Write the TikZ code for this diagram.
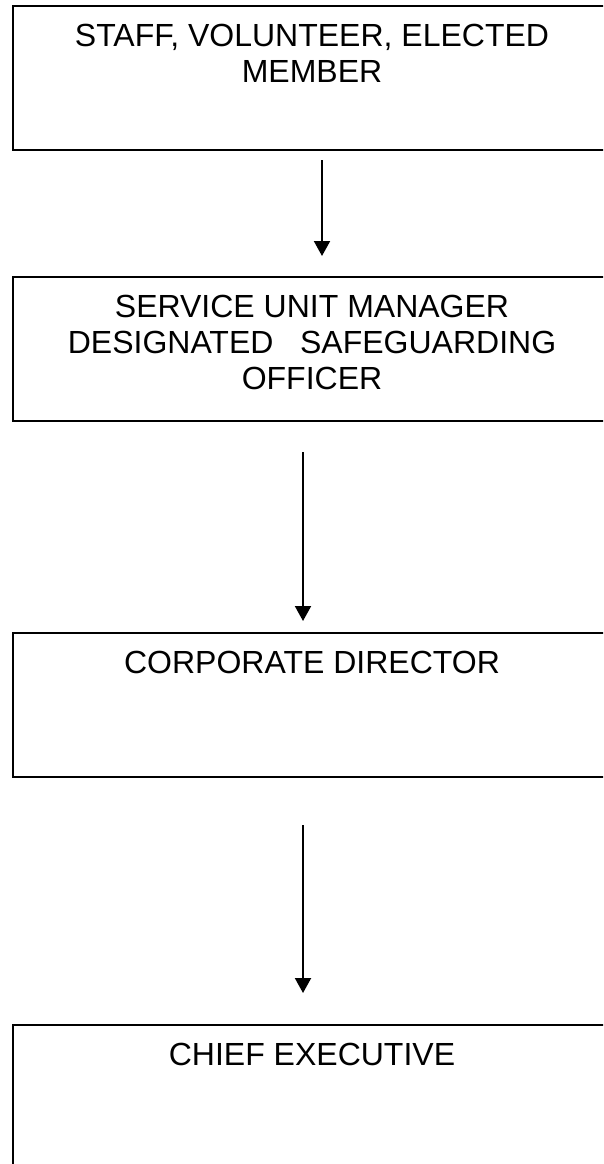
\documentclass[tikz,border=0pt]{standalone}
\usepackage{fontspec}
\setmainfont{Liberation Sans}
\usetikzlibrary{arrows.meta}
\begin{document}
\begin{tikzpicture}[x=1pt,y=-1pt,
  box/.style={draw=black,line width=2pt,rectangle,minimum width=600pt,minimum height=144pt,anchor=north west,inner sep=0pt},
  lbl/.style={anchor=base,align=center,inner sep=0pt,font=\fontsize{32}{36}\selectfont},
  conn/.style={line width=2pt,-{Triangle[width=16pt,length=15pt]}}]
\useasboundingbox (0,0) rectangle (603,1164);
\clip (0,0) rectangle (603,1164);
\node[box] (b1) at (12,5) {};
\node[box] (b2) at (12,276) {};
\node[box] (b3) at (12,632) {};
\node[box] (b4) at (12,1024) {};
\node[lbl] (t1) at (312,82.5) {STAFF, VOLUNTEER, ELECTED\\MEMBER};
\node[lbl] (t2) at (312,389.5) {SERVICE UNIT MANAGER\\DESIGNATED\ \ \ SAFEGUARDING\\OFFICER};
\node[lbl] (t3) at (312,673) {CORPORATE DIRECTOR};
\node[lbl] (t4) at (312,1065) {CHIEF EXECUTIVE};
\coordinate (a1s) at (322,160);
\coordinate (a1e) at (322,256);
\coordinate (a2s) at (303,452);
\coordinate (a2e) at (303,621);
\coordinate (a3s) at (303,825);
\coordinate (a3e) at (303,993);
\draw[conn] (a1s) -- (a1e);
\draw[conn] (a2s) -- (a2e);
\draw[conn] (a3s) -- (a3e);
\end{tikzpicture}
\end{document}
